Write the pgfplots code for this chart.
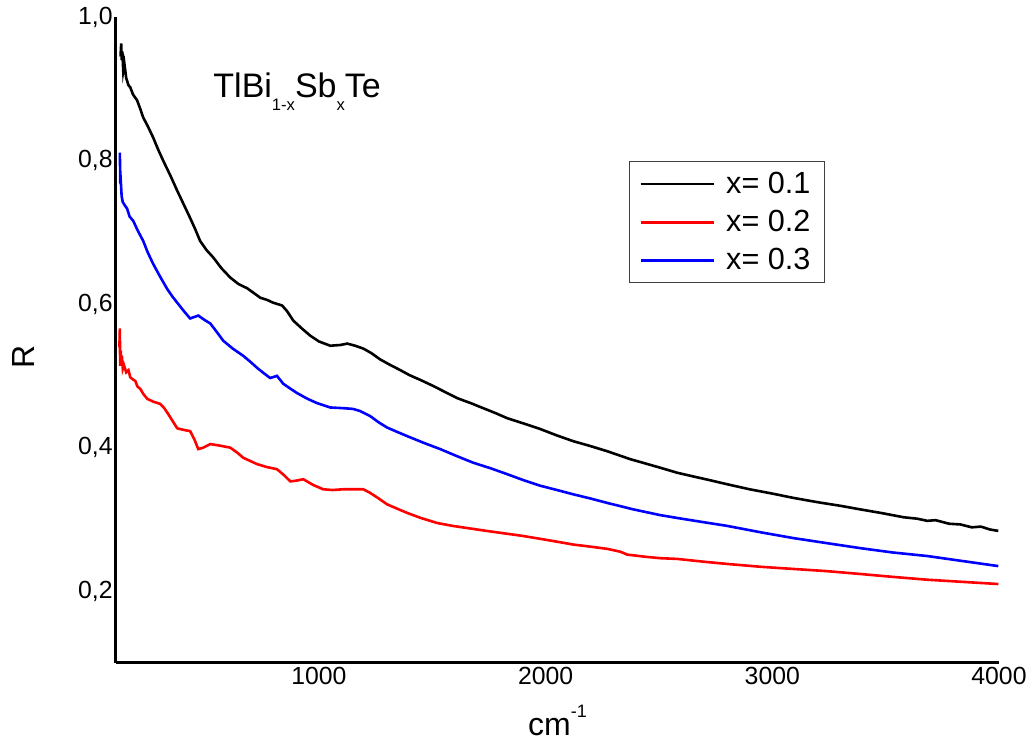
\documentclass[border=0pt]{standalone}
\usepackage{fontspec}
\setmainfont{Liberation Sans}
\usepackage{pgfplots}
\pgfplotsset{compat=1.18}
\usepackage{pgfplotstable}

\pgfplotstableread{
x y
125 0.945
128 0.963
130 0.940
133 0.952
137 0.925
142 0.935
150 0.915
160 0.905
168 0.902
180 0.892
198 0.884
212 0.872
225 0.860
245 0.848
269 0.832
290 0.816
313 0.800
345 0.779
375 0.758
405 0.738
432 0.720
455 0.704
476 0.688
505 0.675
534 0.665
570 0.650
609 0.637
645 0.628
684 0.622
741 0.609
770 0.606
798 0.602
838 0.598
860 0.590
887 0.577
925 0.566
962 0.556
1000 0.548
1050 0.542
1094 0.543
1125 0.545
1160 0.542
1196 0.538
1230 0.532
1270 0.523
1310 0.516
1359 0.508
1400 0.501
1450 0.494
1504 0.486
1566 0.476
1610 0.469
1670 0.462
1725 0.455
1780 0.448
1831 0.441
1900 0.434
1976 0.426
2050 0.417
2122 0.409
2200 0.402
2272 0.395
2373 0.384
2440 0.378
2506 0.372
2581 0.365
2650 0.360
2720 0.355
2801 0.349
2900 0.342
3000 0.336
3093 0.330
3200 0.324
3300 0.319
3388 0.314
3480 0.309
3580 0.303
3640 0.301
3684 0.298
3720 0.299
3780 0.294
3830 0.293
3880 0.289
3920 0.290
3960 0.286
3997 0.284
}\blackdata

\pgfplotstableread{
x y
122 0.811
123 0.790
124 0.768
126 0.772
130 0.750
135 0.742
145 0.737
154 0.733
165 0.722
181 0.716
200 0.703
225 0.688
245 0.672
269 0.656
300 0.638
331 0.621
355 0.610
375 0.602
405 0.590
432 0.580
450 0.582
468 0.584
495 0.578
521 0.573
550 0.561
578 0.549
620 0.538
666 0.528
700 0.519
728 0.511
760 0.503
785 0.497
815 0.500
843 0.489
875 0.482
904 0.476
950 0.468
992 0.462
1050 0.456
1107 0.455
1150 0.454
1182 0.451
1226 0.444
1265 0.435
1301 0.428
1345 0.422
1390 0.416
1460 0.407
1535 0.398
1610 0.388
1681 0.379
1760 0.371
1831 0.363
1900 0.355
1976 0.347
2050 0.341
2122 0.335
2200 0.329
2272 0.323
2387 0.314
2506 0.306
2581 0.302
2700 0.296
2801 0.291
2950 0.282
3093 0.274
3240 0.267
3388 0.260
3530 0.254
3684 0.249
3840 0.242
3997 0.235
}\bluedata

\pgfplotstableread{
x y
120 0.540
122 0.566
123 0.525
124 0.514
126 0.535
128 0.520
131 0.528
135 0.510
140 0.515
150 0.505
160 0.508
168 0.498
180 0.495
190 0.493
200 0.485
212 0.482
225 0.475
243 0.468
270 0.464
300 0.461
318 0.455
335 0.447
355 0.437
375 0.427
400 0.425
432 0.423
450 0.412
468 0.398
490 0.400
521 0.405
560 0.403
609 0.400
640 0.393
666 0.386
700 0.381
728 0.377
770 0.373
815 0.370
845 0.362
874 0.353
900 0.354
931 0.356
975 0.348
1019 0.342
1060 0.341
1107 0.342
1150 0.342
1196 0.342
1226 0.337
1260 0.330
1301 0.321
1345 0.315
1390 0.309
1450 0.302
1522 0.295
1590 0.291
1654 0.288
1740 0.284
1831 0.280
1900 0.277
1976 0.273
2050 0.269
2122 0.265
2200 0.262
2272 0.259
2330 0.255
2360 0.251
2440 0.248
2506 0.246
2581 0.245
2700 0.241
2801 0.238
2950 0.234
3093 0.231
3240 0.228
3388 0.224
3530 0.220
3684 0.216
3840 0.213
3997 0.210
}\reddata

\begin{document}
\begin{tikzpicture}
\begin{axis}[
  scale only axis,
  width=441.5pt, height=323pt,
  xmin=105, xmax=4000,
  ymin=0.1, ymax=1.0,
  axis lines*=left,
  axis line style={line width=1.5pt},
  major tick length=0pt,
  xtick={1000,2000,3000,4000},
  xticklabels={1000,2000,3000,4000},
  ytick={0.2,0.4,0.6,0.8,1.0},
  yticklabels={{0,2},{0,4},{0,6},{0,8},{1,0}},
  tick label style={font=\fontsize{12.4}{14}\selectfont},
  yticklabel style={inner xsep=1.5pt},
  xticklabel style={inner ysep=2pt},
  xlabel={cm\raisebox{9pt}{\fontsize{9}{10}\selectfont -1}},
  xlabel style={at={(axis description cs:0.5,-0.1115)}, anchor=base, font=\fontsize{16}{18}\selectfont},
  ylabel={R},
  ylabel style={at={(axis description cs:-0.1053,0.4737)}, anchor=center, font=\fontsize{16}{18}\selectfont},
  legend cell align=left,
  legend image code/.code={\draw[#1] (0pt,0pt) -- (36.5pt,0pt);},
  legend style={at={(axis description cs:0.581,0.777)}, anchor=north west,
    draw=black!75, line width=0.6pt, font=\fontsize{15.3}{18}\selectfont,
    inner xsep=5pt, inner ysep=3pt, row sep=3pt,
    /tikz/every odd column/.append style={column sep=3.5pt}},
  every axis plot/.append style={line width=1.3pt},
]
\addplot[black] table[x=x,y=y] {\blackdata};
\addlegendentry{x= 0.1}
\addplot[red] table[x=x,y=y] {\reddata};
\addlegendentry{x= 0.2}
\addplot[blue] table[x=x,y=y] {\bluedata};
\addlegendentry{x= 0.3}
\node[anchor=base west, inner sep=0pt, font=\fontsize{17}{19}\selectfont] at (rel axis cs:0.1099,0.876)
  {TlBi\raisebox{-6.5pt}{\fontsize{8.3}{9}\selectfont 1-x}Sb\raisebox{-6.5pt}{\fontsize{8.3}{9}\selectfont x}Te};
\end{axis}
\path ([xshift=-58pt,yshift=-42pt]current axis.south west) rectangle ([xshift=17.5pt,yshift=8.5pt]current axis.north east);
\end{tikzpicture}
\end{document}
